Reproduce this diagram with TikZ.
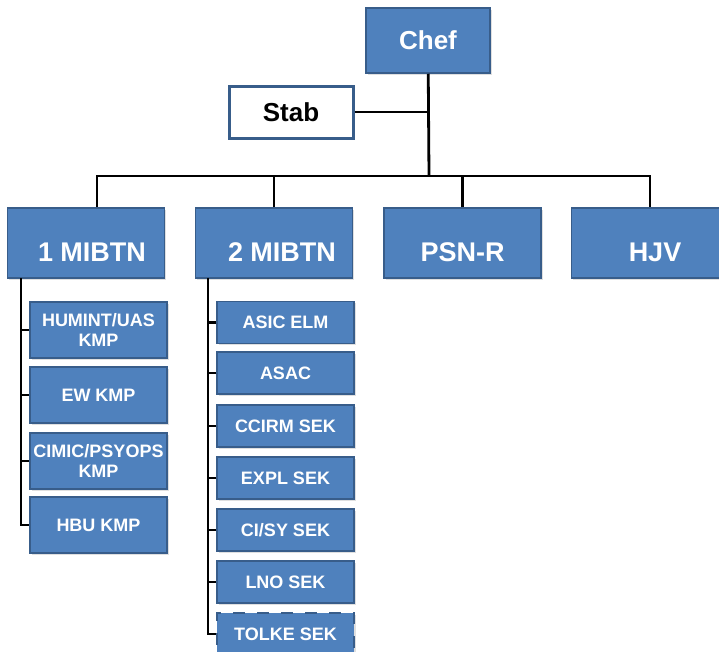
\documentclass[tikz,border=0pt]{standalone}
\usepackage{fontspec}
\setmainfont{Liberation Sans}
\usetikzlibrary{shadows}
\definecolor{orgblue}{RGB}{79,129,189}
\definecolor{orgedge}{RGB}{56,93,138}

\begin{document}
\begin{tikzpicture}[x=1pt,y=-1pt,
  box/.style={draw=orgedge,line width=1.5pt,fill=orgblue,text=white,inner sep=0pt,
    drop shadow={shadow xshift=1.5pt,shadow yshift=-1.5pt,opacity=.25}},
  head/.style={box,font=\fontsize{26}{30}\selectfont\bfseries},
  unit/.style={box,minimum width=157pt,minimum height=70pt,font=\fontsize{27}{30}\selectfont\bfseries,
    text height=37pt,text depth=0pt},
  sub/.style={box,align=center,minimum width=137pt,font=\fontsize{18}{20.5}\selectfont\bfseries},
  link/.style={line width=2.8pt,color=black}]
  \useasboundingbox (0,0) rectangle (719,651);
  \node[head,minimum width=124pt,minimum height=65pt] (chef) at (428,40.5) {Chef};
  \node[head,fill=white,text=black,line width=3pt,minimum width=124pt,minimum height=52pt] (stab) at (291,112) {Stab};
  \node[unit] (m1) at (86,243) {\hspace*{12pt}1 MIBTN};
  \node[unit] (m2) at (274,243) {\hspace*{16pt}2 MIBTN};
  \node[unit] (psn) at (462.5,243) {PSN-R};
  \node[unit] (hjv) at (650,243) {\hspace*{10pt}HJV};
  % 1 MIBTN
  \node[sub,minimum height=56pt] (humint) at (98.5,330) {HUMINT/UAS\\KMP};
  \node[sub,minimum height=56pt] (ew) at (98.5,395) {EW KMP};
  \node[sub,minimum height=56pt] (cimic) at (98.5,461) {CIMIC/PSYOPS\\KMP};
  \node[sub,minimum height=56pt] (hbu) at (98.5,525) {HBU KMP};
  % 2 MIBTN
  \node[sub,minimum height=42pt] (asic) at (285.5,322.5) {ASIC ELM};
  \node[sub,minimum height=42pt] (asac) at (285.5,373) {ASAC};
  \node[sub,minimum height=42pt] (ccirm) at (285.5,426) {CCIRM SEK};
  \node[sub,minimum height=42pt] (expl) at (285.5,478) {EXPL SEK};
  \node[sub,minimum height=42pt] (cisy) at (285.5,530) {CI/SY SEK};
  \node[sub,minimum height=42pt] (lno) at (285.5,582) {LNO SEK};
  \node[sub,minimum height=42pt,line width=2.5pt,dash pattern=on 12pt off 12pt] (tolke) at (285.5,634) {TOLKE SEK};

  \coordinate (bus) at (429,176);
  \coordinate (s1) at (21,278);
  \coordinate (s2) at (208,278);
  \draw[link] (chef) -- (bus);
  \draw[link] (stab) -- (stab -| bus);
  \draw[link] ([xshift=11pt]m1.north) |- (hjv.north |- bus) -- (hjv.north);
  \draw[link] (m2.north) -- (m2.north |- bus);
  \draw[link] (psn.north) -- (psn.north |- bus);
  \draw[link] (s1) |- (hbu.west);
  \foreach \n in {humint,ew,cimic}
    \draw[link] (\n.west) -- (\n.west -| s1);
  \draw[link] (s2) |- (tolke.west);
  \foreach \n in {asic,asac,ccirm,expl,cisy,lno}
    \draw[link] (\n.west) -- (\n.west -| s2);
\end{tikzpicture}
\end{document}
